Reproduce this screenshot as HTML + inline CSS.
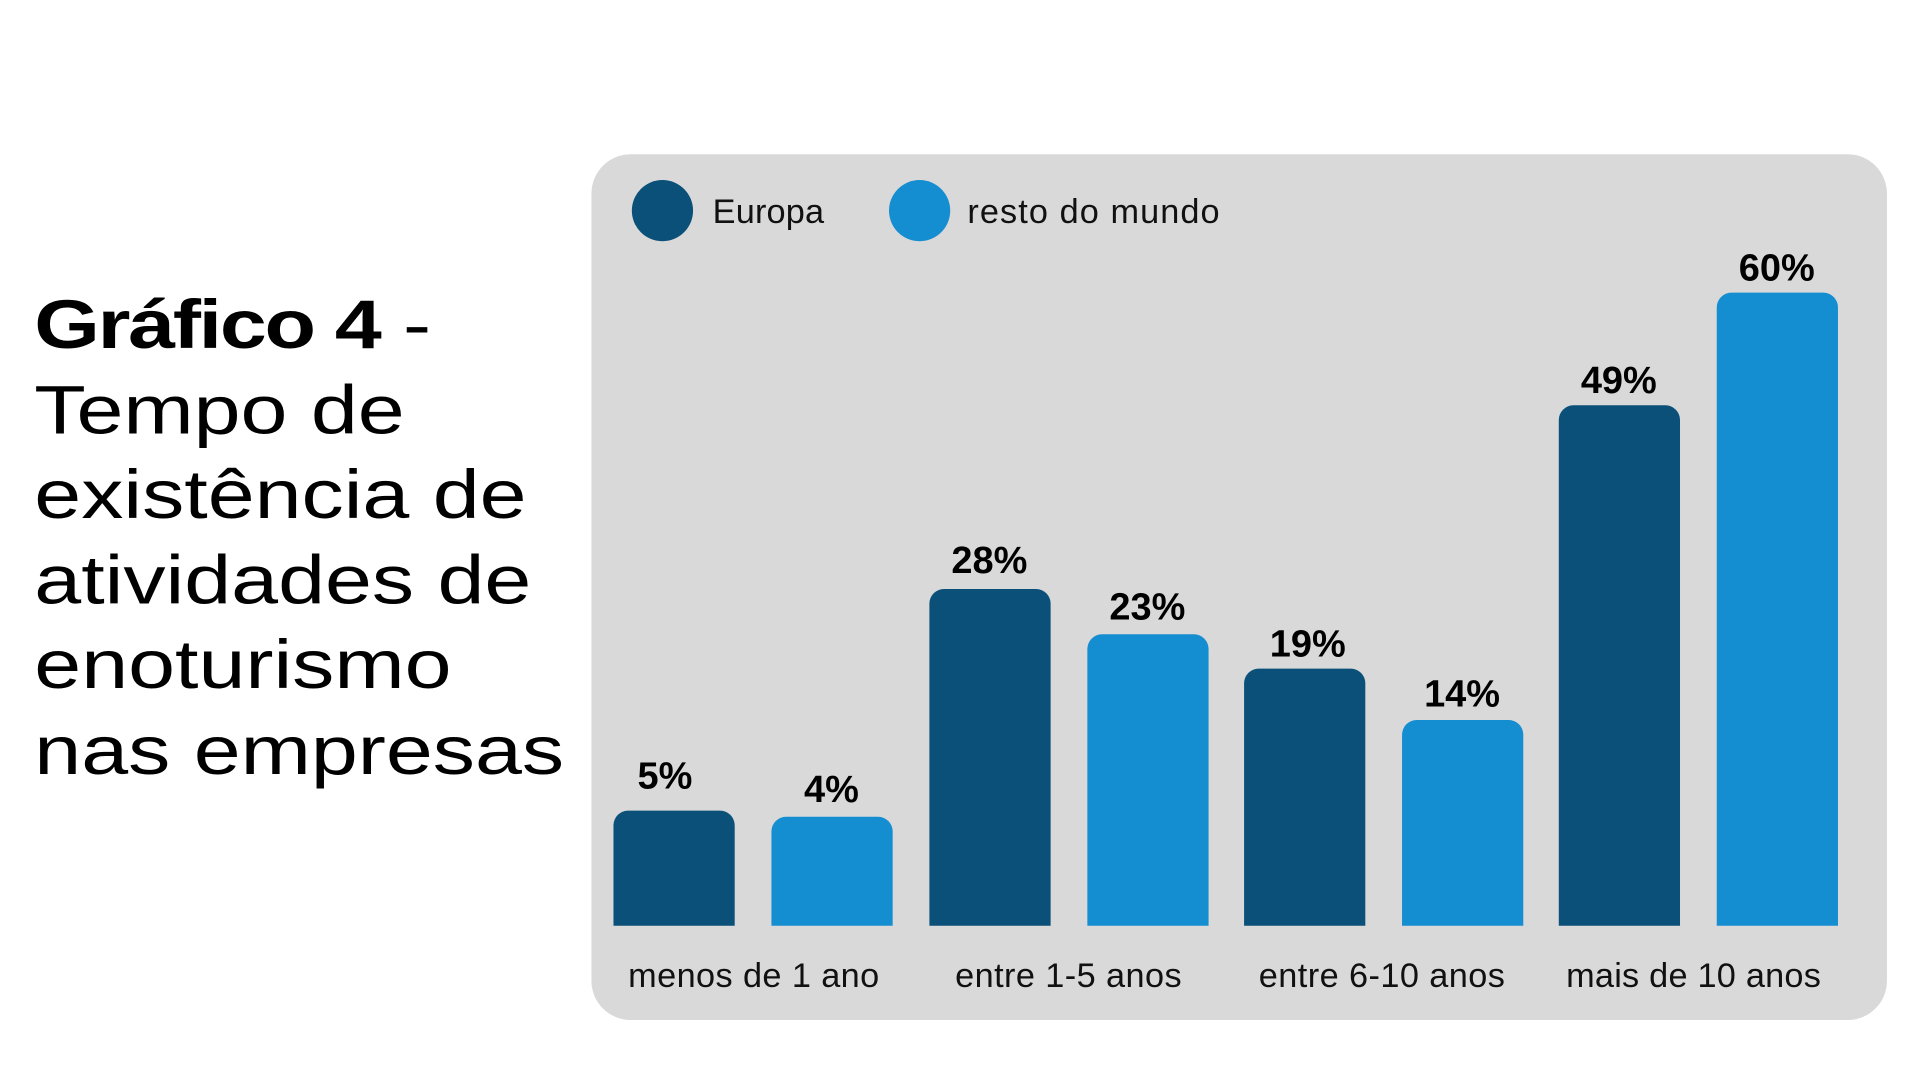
<!DOCTYPE html>
<html><head><meta charset="utf-8"><style>
html,body{margin:0;padding:0;background:#fff;overflow:hidden;width:1920px;height:1080px}
#c{position:absolute;left:0;top:0;width:1546px;height:870px;transform:scale(1.2245);transform-origin:0 0;font-family:"Liberation Sans",sans-serif}
#t{position:absolute;left:28px;top:230px;font-size:56px;line-height:69.5px;color:#000;transform:scaleX(1.23);transform-origin:0 0;white-space:nowrap}
#t b{letter-spacing:-1.5px}
</style></head><body><div id="c">
<div id="t"><b>Gráfico 4</b> -<br>Tempo de<br>existência de<br>atividades de<br>enoturismo<br>nas empresas</div>
<svg width="1546" height="870" style="position:absolute;left:0;top:0" font-family="Liberation Sans, sans-serif">
<rect x="483" y="126" width="1058" height="707" rx="32" fill="#d9d9d9"/>
<circle cx="541" cy="172" r="25" fill="#0a5079"/>
<circle cx="751" cy="172" r="25" fill="#158dd1"/>
<text x="582" y="182" font-size="28" fill="#111" textLength="91">Europa</text>
<text x="790" y="182" font-size="28" fill="#111" textLength="206">resto do mundo</text>
<g font-size="31" font-weight="bold" text-anchor="middle" fill="#000">
<path d="M501 756V674a12 12 0 0 1 12-12h75a12 12 0 0 1 12 12V756z" fill="#0a5079"/><text x="543" y="644">5%</text>
<path d="M630 756V679a12 12 0 0 1 12-12h75a12 12 0 0 1 12 12V756z" fill="#158dd1"/><text x="679" y="655">4%</text>
<path d="M759 756V493a12 12 0 0 1 12-12h75a12 12 0 0 1 12 12V756z" fill="#0a5079"/><text x="808" y="468">28%</text>
<path d="M888 756V530a12 12 0 0 1 12-12h75a12 12 0 0 1 12 12V756z" fill="#158dd1"/><text x="937" y="506">23%</text>
<path d="M1016 756V558a12 12 0 0 1 12-12h75a12 12 0 0 1 12 12V756z" fill="#0a5079"/><text x="1068" y="536">19%</text>
<path d="M1145 756V600a12 12 0 0 1 12-12h75a12 12 0 0 1 12 12V756z" fill="#158dd1"/><text x="1194" y="577">14%</text>
<path d="M1273 756V343a12 12 0 0 1 12-12h75a12 12 0 0 1 12 12V756z" fill="#0a5079"/><text x="1322" y="321">49%</text>
<path d="M1402 756V251a12 12 0 0 1 12-12h75a12 12 0 0 1 12 12V756z" fill="#158dd1"/><text x="1451" y="229">60%</text>
</g>
<g font-size="28" fill="#111">
<text x="513" y="806" textLength="205">menos de 1 ano</text>
<text x="780" y="806" textLength="185">entre 1-5 anos</text>
<text x="1028" y="806" textLength="201">entre 6-10 anos</text>
<text x="1279" y="806" textLength="208">mais de 10 anos</text>
</g>
</svg>
</div></body></html>
